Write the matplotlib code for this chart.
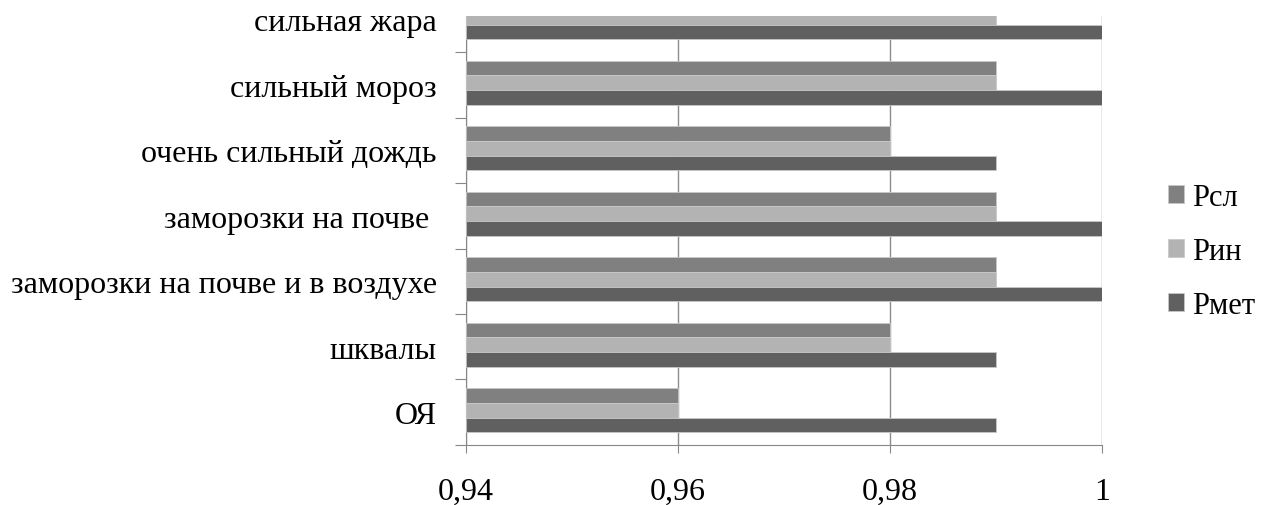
import matplotlib
matplotlib.use('Agg')
import matplotlib.pyplot as plt
import numpy as np
from matplotlib.ticker import FuncFormatter, FixedLocator

# Categories from bottom to top
categories = ['ОЯ', 'шквалы', 'заморозки на почве и в воздухе', 'заморозки на почве ',
              'очень сильный дождь', 'сильный мороз', 'сильная жара']
p_sl = [0.96, 0.98, 0.99, 0.99, 0.98, 0.99, 0.99]
p_in = [0.96, 0.98, 0.99, 0.99, 0.98, 0.99, 0.99]
p_met = [0.99, 0.99, 1.00, 1.00, 0.99, 1.00, 1.00]
series_names = ['Рсл', 'Рин', 'Рмет']
series_colors = ['#808080', '#b3b3b3', '#606060']
x_ticks = [0.94, 0.96, 0.98, 1.0]

plt.rcParams['font.family'] = ['Liberation Serif', 'DejaVu Serif']

fig = plt.figure(figsize=(12.68, 5.06), dpi=100)
ax = fig.add_axes([0.3675, 0.1186, 0.5016, 0.8478])

y = np.arange(len(categories))
h = 0.224
offsets = [h, 0, -h]
base = 0.94
for vals, off, name, col in zip([p_sl, p_in, p_met], offsets, series_names, series_colors):
    ax.barh(y + off + 0.03, np.array(vals) - base, left=base, height=h, color=col,
            edgecolor='#c8c8c8', linewidth=0.6, label=name, zorder=3)

ax.set_xlim(0.94, 1.0)
ax.set_ylim(-0.5, 6.05)

ax.set_xticks(x_ticks)
ax.xaxis.set_major_formatter(FuncFormatter(
    lambda v, p: ('%g' % round(v, 2)).replace('.', ',')))
ax.tick_params(axis='x', direction='out', length=6, color='#888888',
               labelsize=23, pad=17)
ax.grid(True, axis='x', color='#8c8c8c', linewidth=1.0, zorder=0)

ax.yaxis.set_major_locator(FixedLocator(np.arange(-0.5, 6.0, 1.0)))
ax.yaxis.set_major_formatter(FuncFormatter(lambda v, p: ''))
ax.yaxis.set_minor_locator(FixedLocator(y))
ax.set_yticklabels(categories, minor=True)
ax.tick_params(axis='y', which='major', direction='out', length=8, color='#888888')
ax.tick_params(axis='y', which='minor', length=0, labelsize=23, pad=21)

for s in ['top', 'right']:
    ax.spines[s].set_visible(False)
for s in ['left', 'bottom']:
    ax.spines[s].set_color('#888888')

ax.legend(loc='center left', bbox_to_anchor=(1.061, 0.452), frameon=False,
          fontsize=22, handlelength=0.52, handleheight=0.52, labelspacing=0.82,
          handletextpad=0.26)

fig.savefig('out.png', dpi=100)
